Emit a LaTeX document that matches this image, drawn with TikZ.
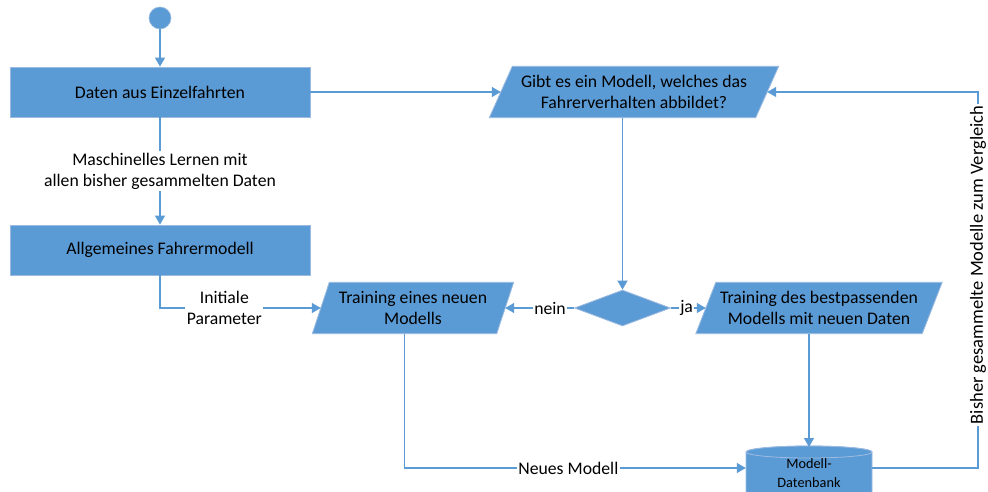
\documentclass[tikz,border=0pt]{standalone}
\usepackage{fontspec}
\setmainfont{Carlito}
\usetikzlibrary{shapes.geometric,arrows.meta,backgrounds}
\definecolor{fillblue}{HTML}{5B9BD5}
\definecolor{edgeblue}{HTML}{9DBBE0}
\definecolor{lineblue}{HTML}{5B9BD5}

\begin{document}
\begin{tikzpicture}[x=1pt,y=-1pt,
  font=\fontsize{17.7}{20.8}\selectfont,
  proc/.style={rectangle, fill=fillblue, draw=edgeblue, line width=0.8pt,
    minimum width=300pt, minimum height=50pt, inner sep=0pt},
  io/.style={rectangle, minimum height=51pt, inner xsep=2pt, inner ysep=0pt, align=center},
  shapefill/.style={fill=fillblue, draw=edgeblue, line width=0.8pt},
  decision/.style={diamond, shapefill, minimum width=96pt, minimum height=36pt, inner sep=0pt},
  startnode/.style={circle, fill=fillblue, draw=edgeblue, line width=0.6pt,
    minimum size=22pt, inner sep=0pt},
  lab/.style={fill=white, inner sep=1.5pt, align=center, text=black},
  arr/.style={draw=lineblue, line width=1.2pt, -{Triangle[width=10pt,length=9pt]}}]

\clip (0,0) rectangle (988,492);

% start and left column
\node[startnode] (start) at (160,18) {};
\node[proc] (d1) at (160,92) {Daten aus Einzelfahrten};
\node[proc] (fm) at (160,250) {Allgemeines Fahrermodell};

% question and training steps (parallelograms drawn on the background layer)
\node[io, minimum width=266pt] (p1) at (634,92)
  {Gibt es ein Modell, welches das\\Fahrerverhalten abbildet?};
\node[io, minimum width=184pt] (p2) at (413,308)
  {Training eines neuen\\Modells};
\node[io, minimum width=226pt] (p3) at (819,308)
  {Training des bestpassenden\\Modells mit neuen Daten};
\coordinate (p1b) at ([xshift=-11.5pt]p1.south);
\coordinate (p2b) at ([xshift=-8.5pt]p2.south);
\coordinate (p3b) at ([xshift=-10pt]p3.south);
\node[decision] (dec) at (p1b |- {(0,308)}) {};

\begin{pgfonlayer}{background}
  \fill[white] (0,0) rectangle (988,492);
  \foreach \n/\s in {p1/23, p2/17, p3/20} {
    \path[shapefill] ([xshift=\s/2]\n.north west) -- ([xshift=\s/2]\n.north east)
      -- ([xshift=-\s/2]\n.south east) -- ([xshift=-\s/2]\n.south west) -- cycle;
  }
\end{pgfonlayer}

% model database (cylinder)
\coordinate (dbtop) at (p3b |- {(0,447)});
\fill[shapefill]
  (746,452) -- (746,520) -- (872,520) -- (872,452)
  arc[start angle=0, end angle=180, x radius=63pt, y radius=6pt] -- cycle;
\draw[shapefill] (809,452) ellipse [x radius=63pt, y radius=6pt];
\node[minimum width=126pt, minimum height=20pt, inner sep=0pt] (db) at (809,468) {};
\node[font=\fontsize{14.3}{19.5}\selectfont, align=center, inner sep=0pt] (dbtext) at (809,473)
  {Modell-\\Datenbank};

% connectors
\draw[arr] (start) -- (d1);
\draw[arr] (d1) -- node[lab] {Maschinelles Lernen mit\\allen bisher gesammelten Daten} (fm);
\draw[arr] (fm.south) |- node[lab, pos=0.70] {Initiale\\Parameter} (p2.west);
\draw[arr] (d1.east) -- (p1.west);
\draw[arr] (p1b) -- (dec.north);
\draw[arr] (dec.west) -- node[lab, pos=0.35, inner sep=1pt] {nein} (p2.east);
\draw[arr] (dec.east) -- node[lab, pos=0.45, inner sep=1pt] {ja} (p3.west);
\draw[arr] (p3b) -- (dbtop);
\draw[arr] (p2b) |- node[lab, pos=0.74] {Neues Modell} (db.west);
\coordinate (rc) at (978,92);
\draw[arr] (db.east) -| node[lab, rotate=90, pos=0.77, font=\fontsize{18.5}{22}\selectfont] {Bisher gesammelte Modelle zum Vergleich} (rc) -- (p1.east);

\end{tikzpicture}
\end{document}
